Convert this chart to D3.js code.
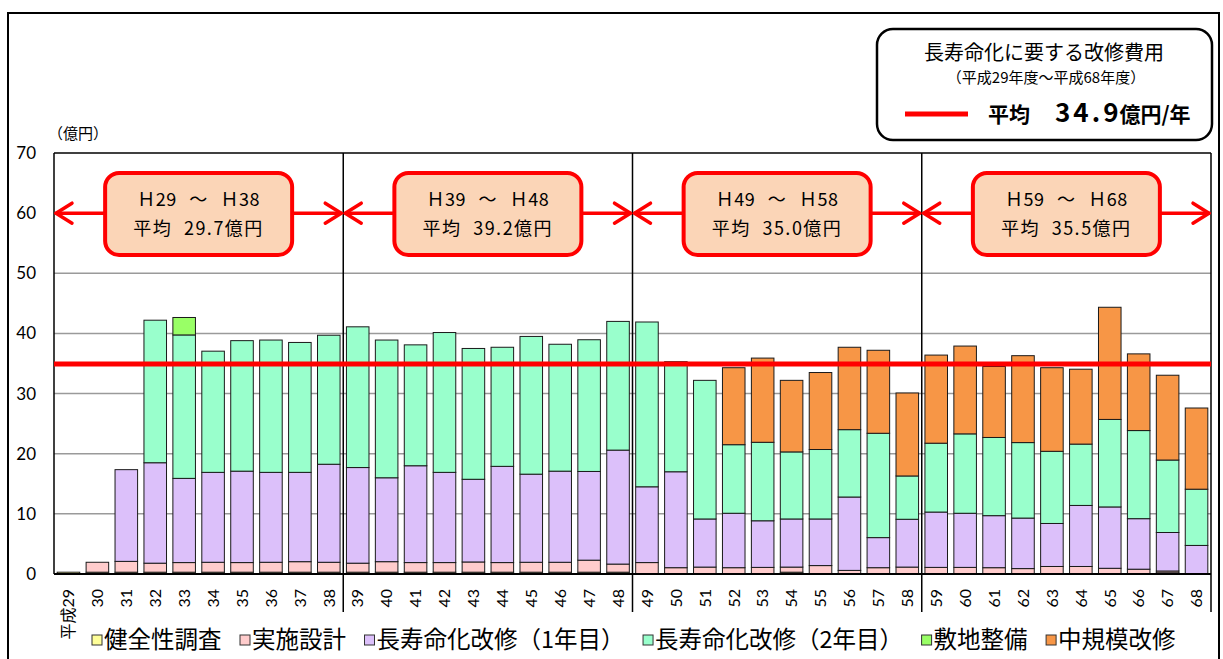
<!DOCTYPE html>
<html><head><meta charset="utf-8">
<script src="https://cdn.jsdelivr.net/npm/d3@7"></script>
<style>
body{margin:0;background:#fff;}
svg{display:block;}
text{font-family:"Noto Sans CJK JP","Noto Sans",sans-serif;fill:#000;}
</style></head><body>
<svg id="chart" width="1223" height="659"></svg>
<script>
// 年度（平成）
const years = [29,30,31,32,33,34,35,36,37,38,39,40,41,42,43,44,45,46,47,48,
               49,50,51,52,53,54,55,56,57,58,59,60,61,62,63,64,65,66,67,68];

// 費用（億円）
const survey   = [0.3,0.3,0.3,0.3,0.3,0.3,0.3,0.3,0.3,0.3,0.3,0.3,0.3,0.3,0.3,0.3,0.3,0.3,0.3,0.3,
                  0,0,0,0,0,0.3,0,0,0,0,0,0,0,0,0,0,0,0,0.2,0];
const design   = [0,1.65,1.8,1.5,1.6,1.65,1.6,1.65,1.75,1.65,1.5,1.75,1.6,1.6,1.7,1.6,1.65,1.65,2.0,1.35,
                  1.9,1.05,1.15,1.05,1.1,0.85,1.4,0.6,1.05,1.15,1.1,1.1,1.05,0.9,1.25,1.25,0.95,0.8,0.3,0];
const life1    = [0,0,15.25,16.7,14.0,14.95,15.2,14.95,14.85,16.3,15.9,13.95,16.1,15.0,13.75,16.0,14.65,15.15,14.75,18.95,
                  12.6,15.95,8.0,9.05,7.75,8.0,7.75,12.2,5.0,7.95,9.2,9.0,8.65,8.4,7.15,10.15,10.2,8.4,6.4,4.75];
const life2    = [0,0,0,23.7,23.85,20.15,21.7,22.0,21.6,21.45,23.4,22.9,20.1,23.25,21.75,19.8,22.9,21.1,21.9,21.4,
                  27.4,18.3,23.05,11.4,13.05,11.15,11.55,11.2,17.35,7.2,11.45,13.2,13.0,12.55,12.0,10.2,14.55,14.65,12.05,9.35];
const site     = [0,0,0,0,2.9,0,0,0,0,0,0,0,0,0,0,0,0,0,0,0,
                  0,0,0,0,0,0,0,0,0,0,0,0,0,0,0,0,0,0,0,0];
const midscale = [0,0,0,0,0,0,0,0,0,0,0,0,0,0,0,0,0,0,0,0,
                  0,0,0,12.8,14.0,11.9,12.8,13.7,13.8,13.8,14.65,14.6,11.8,14.45,13.9,12.45,18.65,12.75,14.1,13.5];

const seriesNames  = ["健全性調査","実施設計","長寿命化改修（1年目）","長寿命化改修（2年目）","敷地整備","中規模改修"];
const seriesColors = ["#FFFF99","#FFCCCC","#DCC0FA","#99FFCC","#99FF66","#F79646"];

// 10年ごとの期間と平均
const periodStart = [29,39,49,59];
const periodEnd   = [38,48,58,68];
const periodAvg   = [29.7,39.2,35.0,35.5];

// 全期間の平均（億円/年）
const overallAvg = 34.9;

const yTicks = [0,10,20,30,40,50,60,70];

// ---- 描画 ----
const svg = d3.select("#chart");
const plot = {left:54, right:1211, top:153, bottom:574};

const x = d3.scaleBand().domain(years).range([plot.left, plot.right])
  .paddingInner(0.22).paddingOuter(0.11);
const y = d3.scaleLinear().domain([0,70]).range([plot.bottom, plot.top]);
const edge = yr => x(yr) - x.step()*0.11;   // 区切り位置

// 外枠
svg.append("rect").attr("x",8).attr("y",13).attr("width",1211).attr("height",700)
  .attr("fill","none").attr("stroke","#000").attr("stroke-width",2);

// 目盛線
svg.append("g").selectAll("line").data(yTicks.filter(t => t>0 && t<70)).join("line")
  .attr("x1",plot.left).attr("x2",plot.right)
  .attr("y1",d=>y(d)).attr("y2",d=>y(d))
  .attr("stroke","#9a9a9a").attr("stroke-width",1.5);

// 積み上げ棒
const rows = years.map((yr,i) => ({year:yr, s0:survey[i], s1:design[i], s2:life1[i], s3:life2[i], s4:site[i], s5:midscale[i]}));
const keys = ["s0","s1","s2","s3","s4","s5"];
const stacked = d3.stack().keys(keys)(rows);
svg.append("g").selectAll("g").data(stacked).join("g")
  .attr("fill",(d,i)=>seriesColors[i])
  .selectAll("rect").data(d=>d.filter(p=>p[1]-p[0]>0)).join("rect")
  .attr("x",d=>x(d.data.year)).attr("width",x.bandwidth())
  .attr("y",d=>y(d[1])).attr("height",d=>y(d[0])-y(d[1]))
  .attr("stroke","#1a1a1a").attr("stroke-width",1);

// 軸枠
const frame = svg.append("g").attr("stroke","#000").attr("stroke-width",1.5);
frame.append("line").attr("x1",plot.left).attr("x2",plot.left).attr("y1",plot.top).attr("y2",plot.bottom);
frame.append("line").attr("x1",plot.left).attr("x2",plot.right).attr("y1",plot.top).attr("y2",plot.top);
frame.append("line").attr("x1",plot.left).attr("x2",plot.right).attr("y1",plot.bottom).attr("y2",plot.bottom).attr("stroke-width",2);
// 期間の区切り線
const dividers = periodStart.slice(1).map(edge).concat([plot.right]);
frame.selectAll(null).data(dividers).join("line")
  .attr("x1",d=>d).attr("x2",d=>d).attr("y1",plot.top).attr("y2",612);

// 平均線
svg.append("line").attr("x1",plot.left).attr("x2",plot.right)
  .attr("y1",y(overallAvg)).attr("y2",y(overallAvg))
  .attr("stroke","#FF0000").attr("stroke-width",5);

// Y軸ラベル
svg.append("g").selectAll("text").data(yTicks).join("text")
  .attr("x",36).attr("y",d=>y(d)).attr("dy","0.35em")
  .attr("text-anchor","end").style("font-family","Lato,'Noto Sans',sans-serif")
  .style("font-size","17px").text(d=>d);
svg.append("text").attr("x",48).attr("y",139).style("font-size","15px").text("（億円）");

// X軸ラベル
svg.append("g").selectAll("text").data(years).join("text")
  .attr("transform",d=>`translate(${x(d)+x.bandwidth()/2},589) rotate(-90)`)
  .attr("text-anchor","end").attr("dy","0.36em")
  .style("font-family","Lato,'Noto Sans CJK JP',sans-serif").style("font-size","16px")
  .text((d,i)=> i===0 ? "平成"+d : d);

// 期間の矢印と平均ボックス
const ay = y(60);
const per = svg.append("g");
periodStart.forEach((s,i)=>{
  const x0 = edge(s);
  const x1 = i<periodStart.length-1 ? edge(periodStart[i+1]) : plot.right;
  const g = per.append("g").attr("stroke","#FF0000").attr("stroke-width",3.5)
    .attr("fill","none").attr("stroke-linecap","round").attr("stroke-linejoin","round");
  g.append("line").attr("x1",x0+2).attr("x2",x1-2).attr("y1",ay).attr("y2",ay);
  g.append("polyline").attr("points",`${x0+18},${ay-10} ${x0+2},${ay} ${x0+18},${ay+10}`);
  g.append("polyline").attr("points",`${x1-18},${ay-10} ${x1-2},${ay} ${x1-18},${ay+10}`);
  const cx = (x0+x1)/2;
  per.append("rect").attr("x",cx-93.5).attr("y",173).attr("width",187).attr("height",82)
    .attr("rx",14).attr("fill","#FBD5B7").attr("stroke","#FF0000").attr("stroke-width",4);
  per.append("text").attr("x",cx).attr("y",206).attr("text-anchor","middle")
    .style("font-size","18px").style("word-spacing","8px").style("letter-spacing","0.5px")
    .text(`Ｈ${s} ～ Ｈ${periodEnd[i]}`);
  per.append("text").attr("x",cx).attr("y",235).attr("text-anchor","middle")
    .style("font-size","18px").style("word-spacing","6px").style("letter-spacing","1.5px")
    .text(`平均 ${periodAvg[i].toFixed(1)}億円`);
});

// 全体平均の凡例ボックス
const lg = svg.append("g");
lg.append("rect").attr("x",877).attr("y",29).attr("width",335).attr("height",111).attr("rx",16)
  .attr("fill","#fff").attr("stroke","#000").attr("stroke-width",2.5);
lg.append("text").attr("x",1044).attr("y",60).attr("text-anchor","middle").style("font-size","20px")
  .text("長寿命化に要する改修費用");
lg.append("text").attr("x",1046).attr("y",83).attr("text-anchor","middle").style("font-size","15px")
  .text("（平成29年度～平成68年度）");
lg.append("line").attr("x1",905).attr("x2",968).attr("y1",114).attr("y2",114)
  .attr("stroke","#FF0000").attr("stroke-width",5);
const avgText = lg.append("text").attr("x",988).attr("y",122).style("font-weight","bold");
avgText.append("tspan").style("font-size","21px").text("平均");
avgText.append("tspan").attr("dx",25).style("font-size","26px").style("letter-spacing","3px")
  .style("font-family","'Liberation Sans Narrow','Noto Sans CJK JP',sans-serif").text(overallAvg.toFixed(1));
avgText.append("tspan").attr("dx",-2).style("font-size","21px").text("億円/年");

// 下部の凡例
const leg = svg.append("g");
let lx = 92;
seriesNames.forEach((name,i)=>{
  leg.append("rect").attr("x",lx).attr("y",635).attr("width",10).attr("height",10)
    .attr("fill",seriesColors[i]).attr("stroke","#333").attr("stroke-width",1);
  const t = leg.append("text").attr("x",lx+12).attr("y",648).style("font-size","23.5px").text(name);
  lx += 12 + t.node().getComputedTextLength() + 18.5;
});
</script>
</body></html>
